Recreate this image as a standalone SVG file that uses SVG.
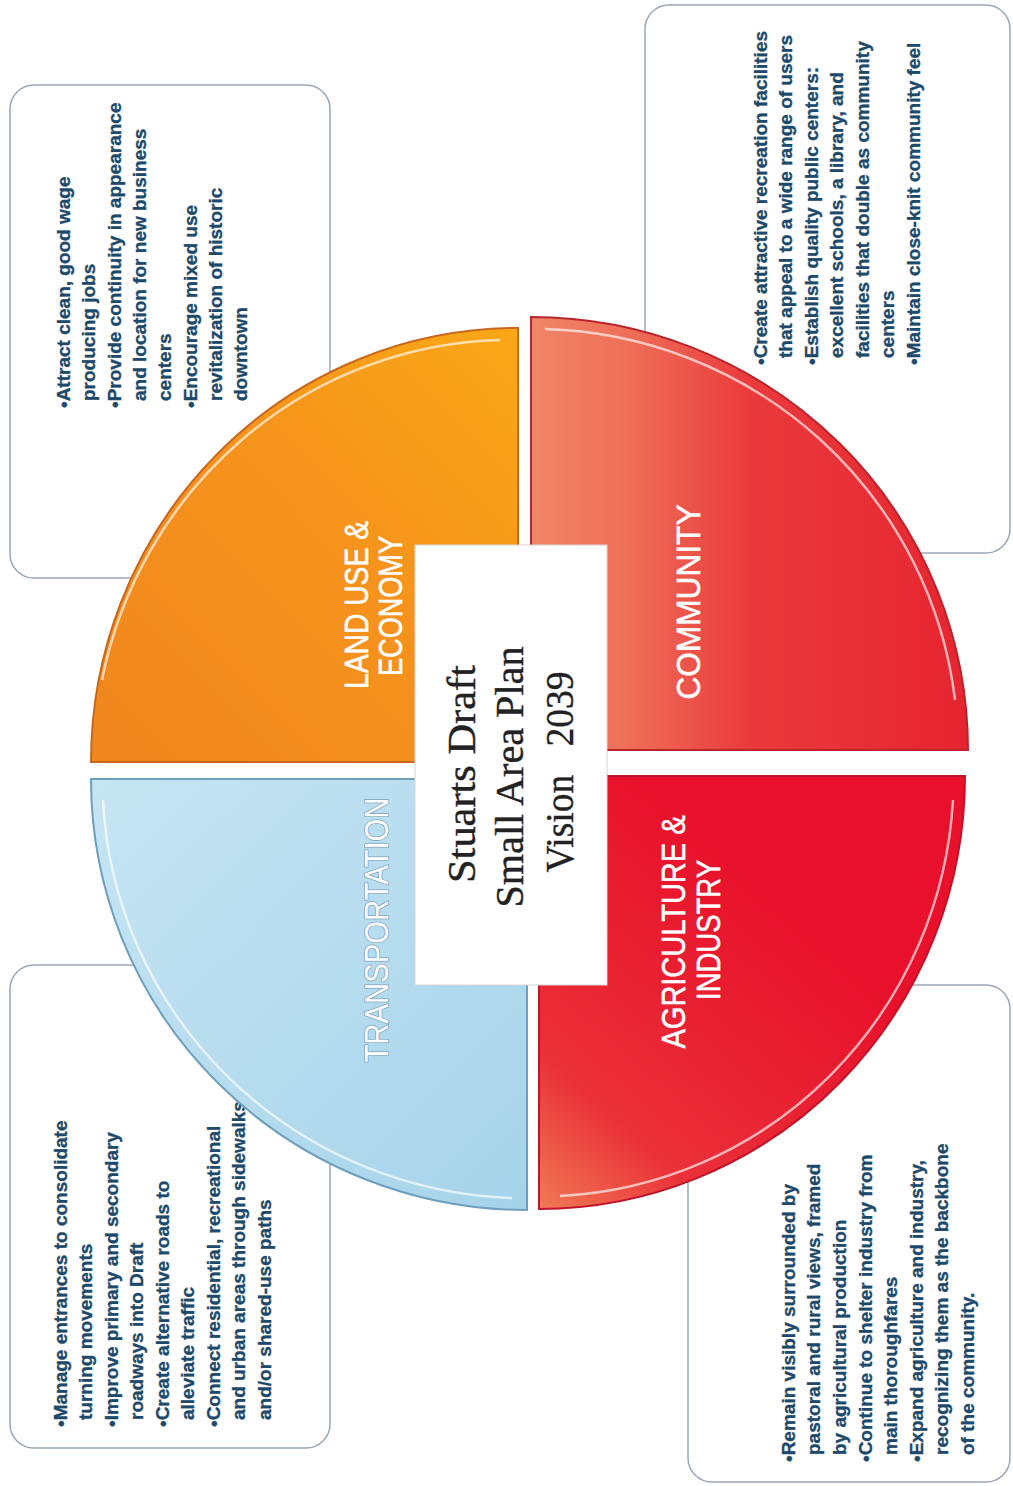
<svg xmlns="http://www.w3.org/2000/svg" width="1013" height="1486" viewBox="0 0 1013 1486">
<style>
.card{fill:#ffffff;stroke:#9aa6b6;stroke-width:1.5}
.bul{font-family:"Liberation Sans",Arial,sans-serif;font-weight:bold;font-size:19px;fill:#1d4a6b;stroke:#1d4a6b;stroke-width:0.35}
.lab{font-family:"Liberation Sans",Arial,sans-serif;font-size:34px;fill:#ffffff;text-anchor:middle;stroke:#ffffff;stroke-width:0.6}
.ctr{font-family:"Liberation Serif","Times New Roman",serif;font-size:41px;fill:#222222;text-anchor:middle;stroke:#222222;stroke-width:0.4}
.hl{fill:none;stroke:#ffffff;stroke-width:2.5;stroke-opacity:0.65}
</style>
<defs>
<linearGradient id="gOrange" x1="0" y1="1" x2="1" y2="0">
<stop offset="0" stop-color="#F0861F"/>
<stop offset="0.55" stop-color="#F6931C"/>
<stop offset="1" stop-color="#F9A817"/>
</linearGradient>
<linearGradient id="gComm" x1="0" y1="0" x2="1" y2="0">
<stop offset="0" stop-color="#F08668"/>
<stop offset="0.22" stop-color="#EF6F58"/>
<stop offset="0.5" stop-color="#EA3A3C"/>
<stop offset="1" stop-color="#E62430"/>
</linearGradient>
<linearGradient id="gAgri" x1="0" y1="1" x2="0.6" y2="0.3">
<stop offset="0" stop-color="#F07A55"/>
<stop offset="0.3" stop-color="#EA3038"/>
<stop offset="1" stop-color="#E8102B"/>
</linearGradient>
<linearGradient id="gTrans" x1="0" y1="0" x2="1" y2="1">
<stop offset="0" stop-color="#C6E5F3"/>
<stop offset="1" stop-color="#A6D3EA"/>
</linearGradient>
</defs>
<rect x="0" y="0" width="1013" height="1486" fill="#ffffff"/>

<g id="card-land-use">
<rect class="card" x="10" y="85" width="320" height="493" rx="24"/>
<g transform="rotate(-90)" class="bul">
<text x="-408" y="70">•Attract clean, good wage</text>
<text x="-401" y="95">producing jobs</text>
<text x="-408" y="121">•Provide continuity in appearance</text>
<text x="-401" y="146">and location for new business</text>
<text x="-401" y="171">centers</text>
<text x="-408" y="197">•Encourage mixed use</text>
<text x="-401" y="222">revitalization of historic</text>
<text x="-401" y="247">downtown</text>
</g>
</g>

<g id="card-community">
<rect class="card" x="645" y="5" width="365" height="548" rx="24"/>
<g transform="rotate(-90)" class="bul">
<text x="-365" y="767">•Create attractive recreation facilities</text>
<text x="-358" y="792">that appeal to a wide range of users</text>
<text x="-365" y="818">•Establish quality public centers:</text>
<text x="-358" y="843">excellent schools, a library, and</text>
<text x="-358" y="869">facilities that double as community</text>
<text x="-358" y="894">centers</text>
<text x="-365" y="920">•Maintain close-knit community feel</text>
</g>
</g>

<g id="card-transportation">
<rect class="card" x="10" y="965" width="320" height="483" rx="24"/>
<g transform="rotate(-90)" class="bul">
<text x="-1427" y="67">•Manage entrances to consolidate</text>
<text x="-1420" y="92">turning movements</text>
<text x="-1427" y="118">•Improve primary and secondary</text>
<text x="-1420" y="143">roadways into Draft</text>
<text x="-1427" y="169">•Create alternative roads to</text>
<text x="-1420" y="194">alleviate traffic</text>
<text x="-1427" y="220">•Connect residential, recreational</text>
<text x="-1420" y="245">and urban areas through sidewalks</text>
<text x="-1420" y="271">and/or shared-use paths</text>
</g>
</g>

<g id="card-agriculture">
<rect class="card" x="688" y="985" width="322" height="497" rx="24"/>
<g transform="rotate(-90)" class="bul">
<text x="-1462" y="795">•Remain visibly surrounded by</text>
<text x="-1455" y="820">pastoral and rural views, framed</text>
<text x="-1455" y="846">by agricultural production</text>
<text x="-1462" y="872">•Continue to shelter industry from</text>
<text x="-1455" y="897">main thoroughfares</text>
<text x="-1462" y="923">•Expand agriculture and industry,</text>
<text x="-1455" y="948">recognizing them as the backbone</text>
<text x="-1455" y="974">of the community.</text>
</g>
</g>

<g id="connectors"></g>

<g id="node-land-use">
<path d="M518,762 L91,762 A427,434 0 0 1 518,328 Z" fill="url(#gOrange)" stroke="#C9671C" stroke-width="2"/>
<path class="hl" d="M102,680 A417,424 0 0 1 500,340"/>
<g transform="rotate(-90)">
<text class="lab" x="-605" y="368" textLength="168" lengthAdjust="spacingAndGlyphs">LAND USE &amp;</text>
<text class="lab" x="-606" y="402" textLength="140" lengthAdjust="spacingAndGlyphs">ECONOMY</text>
</g>
</g>

<g id="node-community">
<path d="M531,750 L531,317 A437,433 0 0 1 968,750 Z" fill="url(#gComm)" stroke="#B8262C" stroke-width="2"/>
<path class="hl" d="M545,329 A425,421 0 0 1 955,700"/>
<g transform="rotate(-90)">
<text class="lab" x="-602" y="700" font-size="36" textLength="195" lengthAdjust="spacingAndGlyphs">COMMUNITY</text>
</g>
</g>

<g id="node-agriculture">
<path d="M539,776 L965,776 A426,433 0 0 1 539,1209 Z" fill="url(#gAgri)" stroke="#C0142A" stroke-width="2"/>
<path class="hl" d="M953,800 A414,421 0 0 1 560,1196"/>
<g transform="rotate(-90)">
<text class="lab" x="-932" y="685" textLength="233" lengthAdjust="spacingAndGlyphs">AGRICULTURE &amp;</text>
<text class="lab" x="-930" y="720" textLength="140" lengthAdjust="spacingAndGlyphs">INDUSTRY</text>
</g>
</g>

<g id="node-transportation">
<path d="M527,779 L527,1210 A436,431 0 0 1 91,779 Z" fill="url(#gTrans)" stroke="#6E9FBE" stroke-width="2"/>
<path class="hl" d="M512,1198 A424,419 0 0 1 103,800"/>
<g transform="rotate(-90)">
<text class="lab" x="-930" y="388" textLength="265" lengthAdjust="spacingAndGlyphs" style="stroke:#7FA3BB;stroke-width:1.6;paint-order:stroke">TRANSPORTATION</text>
</g>
</g>

<g id="node-center">
<rect x="415" y="545" width="192" height="440" fill="#ffffff" stroke="#d6d6d6" stroke-width="1"/>
<g transform="rotate(-90)">
<text class="ctr" x="-774" y="475" textLength="218" lengthAdjust="spacingAndGlyphs">Stuarts Draft</text>
<text class="ctr" x="-777" y="523" textLength="261" lengthAdjust="spacingAndGlyphs">Small Area Plan</text>
<text class="ctr" x="-772" y="573" textLength="201" lengthAdjust="spacingAndGlyphs">Vision&#160;&#160;&#160;2039</text>
</g>
</g>
</svg>
